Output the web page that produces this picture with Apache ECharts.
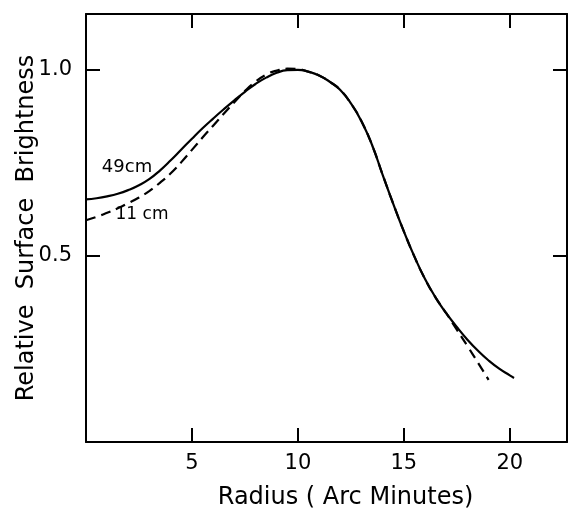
<!DOCTYPE html>
<html>
<head>
<meta charset="utf-8">
<script src="https://cdn.jsdelivr.net/npm/echarts@6/dist/echarts.min.js"></script>
<style>
  html, body { margin: 0; padding: 0; background: #fff; }
  #chart { width: 568px; height: 510px; }
</style>
</head>
<body>
<div id="chart"></div>
<script>
// 49 cm profile (solid)
const radius49 = [0, 0.5, 1, 1.5, 2, 2.5, 3, 3.5, 4, 4.5, 5, 5.5, 6, 6.5, 7, 7.5, 8, 8.5, 9, 9.5, 10,
  10.5, 11, 11.5, 12, 12.5, 13, 13.5, 14, 14.5, 15, 15.5, 16, 16.5, 17, 17.5, 18, 18.5, 19, 19.5, 20, 20.2];
const bright49 = [0.652, 0.655, 0.660, 0.667, 0.677, 0.690, 0.707, 0.730, 0.757, 0.786, 0.815, 0.843,
  0.869, 0.894, 0.918, 0.941, 0.962, 0.979, 0.992, 0.999, 1.000, 0.995, 0.985, 0.968, 0.946, 0.910,
  0.862, 0.798, 0.718, 0.640, 0.566, 0.498, 0.438, 0.388, 0.346, 0.309, 0.275, 0.245, 0.219, 0.197,
  0.179, 0.172];

// 11 cm profile (dashed)
const radius11 = [0, 0.5, 1, 1.5, 2, 2.5, 3, 3.5, 4, 4.5, 5, 5.5, 6, 6.5, 7, 7.5, 8, 8.5, 9, 9.5, 10,
  10.5, 11, 11.5, 12, 12.5, 13, 13.5, 14, 14.5, 15, 15.5, 16, 16.5, 17, 17.5, 18, 18.5, 19];
const bright11 = [0.596, 0.605, 0.616, 0.628, 0.642, 0.657, 0.675, 0.697, 0.722, 0.752, 0.785, 0.818,
  0.850, 0.882, 0.913, 0.943, 0.968, 0.987, 0.998, 1.003, 1.002, 0.995, 0.985, 0.968, 0.946, 0.910,
  0.862, 0.798, 0.718, 0.640, 0.566, 0.498, 0.438, 0.388, 0.346, 0.302, 0.258, 0.213, 0.167];

const xTicks = [5, 10, 15, 20];
const yTicks = [0.5, 1.0];

const pairs = (xs, ys) => xs.map((x, i) => [x, ys[i]]);

const ink = '#000';
const font = 'DejaVu Sans';

const chart = echarts.init(document.getElementById('chart'));

const lineStyle = { color: ink, width: 2 };
const tickStyle = { show: true, inside: true, length: 14, lineStyle: { color: ink, width: 2 } };

chart.setOption({
  animation: false,
  backgroundColor: '#fff',
  grid: { left: 86, right: 1, top: 14, bottom: 68, outerBoundsMode: 'none', containLabel: false },
  xAxis: [
    {
      type: 'value',
      min: 0,
      max: 22.7,
      interval: 5,
      axisLine: { show: true, onZero: false, lineStyle: lineStyle },
      axisTick: tickStyle,
      splitLine: { show: false },
      axisLabel: {
        color: ink,
        fontFamily: font,
        fontSize: 21,
        margin: 11,
        formatter: v => (xTicks.includes(v) ? String(v) : '')
      },
      name: 'Radius ( Arc Minutes)',
      nameLocation: 'middle',
      nameGap: 44,
      nameMoveOverlap: false,
      nameTextStyle: { color: ink, fontFamily: font, fontSize: 24, padding: [0, 0, 0, 38] }
    },
    {
      type: 'value',
      position: 'top',
      min: 0,
      max: 22.7,
      interval: 5,
      axisLine: { show: true, onZero: false, lineStyle: lineStyle },
      axisTick: tickStyle,
      splitLine: { show: false },
      axisLabel: { show: false }
    }
  ],
  yAxis: [
    {
      type: 'value',
      min: 0,
      max: 1.15,
      interval: 0.5,
      axisLine: { show: true, onZero: false, lineStyle: lineStyle },
      axisTick: tickStyle,
      splitLine: { show: false },
      axisLabel: {
        color: ink,
        fontFamily: font,
        fontSize: 21,
        margin: 14,
        formatter: v => (yTicks.some(t => Math.abs(t - v) < 1e-9) ? v.toFixed(1) : '')
      },
      name: 'Relative  Surface  Brightness',
      nameLocation: 'middle',
      nameGap: 47,
      nameMoveOverlap: false,
      nameTextStyle: { color: ink, fontFamily: font, fontSize: 24 }
    },
    {
      type: 'value',
      position: 'right',
      min: 0,
      max: 1.15,
      interval: 0.5,
      axisLine: { show: true, onZero: false, lineStyle: lineStyle },
      axisTick: tickStyle,
      splitLine: { show: false },
      axisLabel: { show: false }
    }
  ],
  series: [
    {
      name: '49 cm',
      type: 'line',
      data: pairs(radius49, bright49),
      smooth: 0.5,
      showSymbol: false,
      lineStyle: { color: ink, width: 2.2 },
      z: 3
    },
    {
      name: '11 cm',
      type: 'line',
      data: pairs(radius11, bright11),
      smooth: 0.5,
      showSymbol: false,
      lineStyle: { color: ink, width: 2.2, type: [10, 6] },
      z: 2
    }
  ],
  graphic: [
    {
      type: 'text',
      x: 127, y: 167,
      style: { text: '49cm', fill: ink, font: '18px "DejaVu Sans"', textAlign: 'center', textVerticalAlign: 'middle' }
    },
    {
      type: 'text',
      x: 142, y: 215,
      style: { text: '11 cm', fill: ink, font: '17px "DejaVu Sans"', textAlign: 'center', textVerticalAlign: 'middle' }
    }
  ]
});
</script>
</body>
</html>
